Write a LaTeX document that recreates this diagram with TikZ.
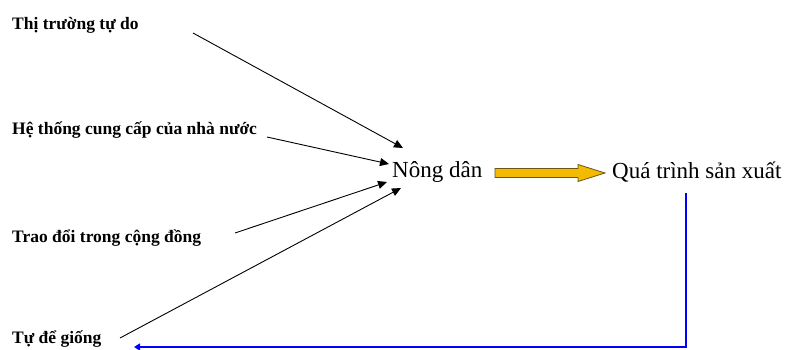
\documentclass[tikz,border=0pt]{standalone}
\usepackage{fontspec}
\setmainfont{Liberation Serif}
\usetikzlibrary{arrows.meta}
\definecolor{gold}{RGB}{242,186,0}
\definecolor{goldline}{RGB}{110,85,20}

\begin{document}
\begin{tikzpicture}[x=1pt,y=-1pt]
	\tikzstyle{every node}=[inner sep=0pt,anchor=base west]
	\tikzstyle{src}=[font=\fontsize{17.5}{20}\selectfont\bfseries]
	\tikzstyle{big}=[font=\fontsize{23}{25}\selectfont]
	\tikzstyle{every edge}=[draw,-{Triangle[length=9pt,width=8pt]},line width=0.9pt]
	\tikzstyle{back}=[draw=blue,line width=2.6pt,-{Triangle[length=6pt,width=7pt]}]
	\useasboundingbox (0,0) rectangle (786,350);

	\node[src] (T) at (12,30) {Thị trường tự do};
	\node[src] (H) at (12,135) {Hệ thống cung cấp của nhà nước};
	\node[src] (C) at (12,242) {Trao đổi trong cộng đồng};
	\node[src] (G) at (12,343) {Tự để giống};
	\node[big] (N) at (392,177) {Nông dân};
	\node[big] (Q) at (612,178) {Quá trình sản xuất};

	% tails and heads of the input arrows
	\coordinate (t1) at (193,33);
	\coordinate (h1) at (403,148);
	\coordinate (t2) at (267,137);
	\coordinate (h2) at (389,164);
	\coordinate (t3) at (235,233);
	\coordinate (h3) at (387,182);
	\coordinate (t4) at (120,338);
	\coordinate (h4) at (401,188);

	\draw (t1) edge (h1);
	\draw (t2) edge (h2);
	\draw (t3) edge (h3);
	\draw (t4) edge (h4);

	% block arrow from N to Q
	\draw[fill=gold,draw=goldline,line width=0.8pt]
	(495,168.5) -- (578,168.5) -- (578,164.5) -- (605,173) -- (578,181.5)
	-- (578,177.5) -- (495,177.5) -- cycle;

	\draw[back] (686,193) |- (134,347);
\end{tikzpicture}
\end{document}
